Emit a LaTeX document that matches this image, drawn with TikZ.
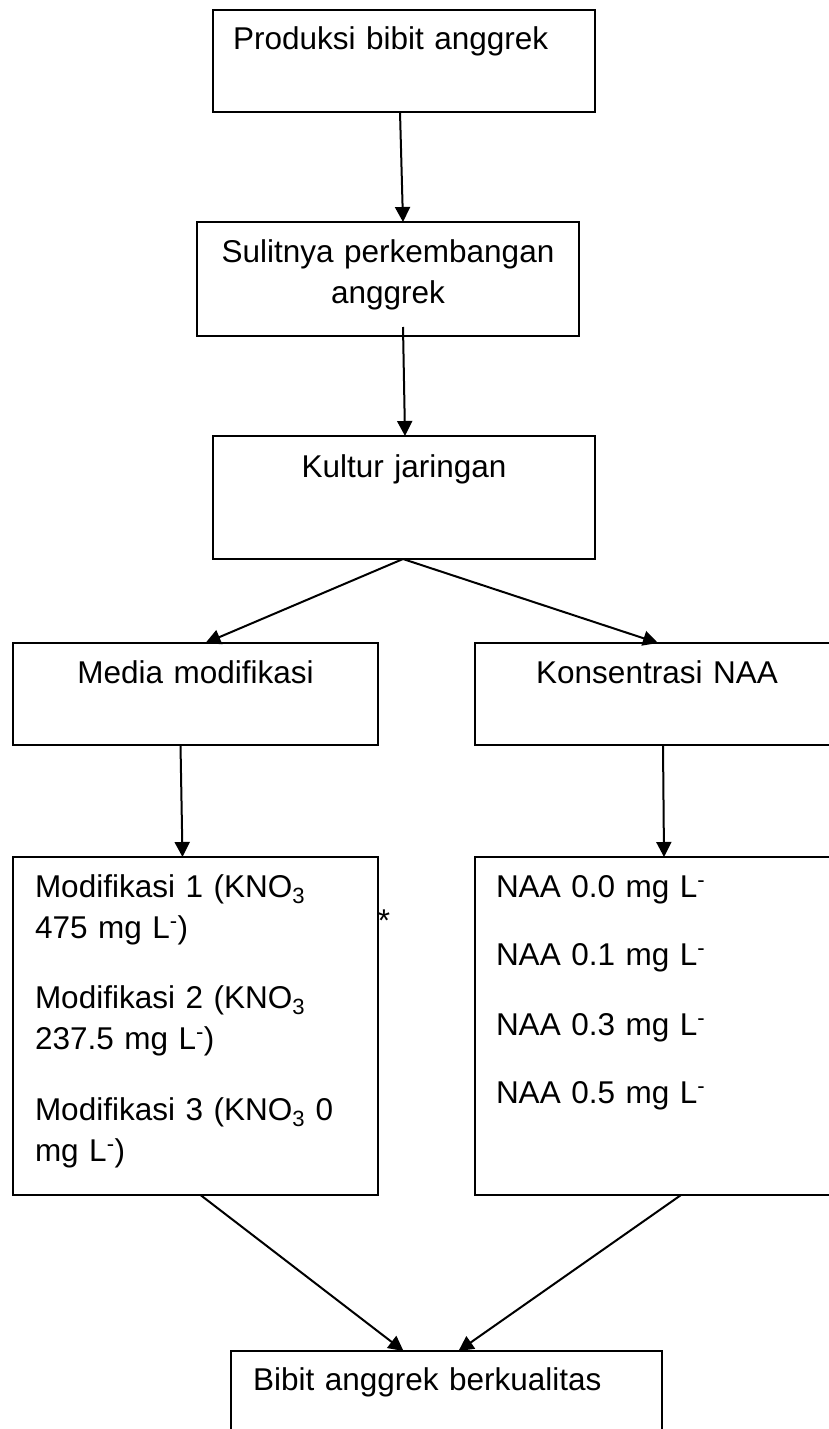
\documentclass[tikz,border=0pt]{standalone}
\usepackage{fontspec}
\setmainfont{Liberation Sans}
\usepackage{tikz}
\usetikzlibrary{arrows.meta,shapes}

\begin{document}
\begin{tikzpicture}[x=1pt,y=-1pt,
  box/.style={draw,line width=2pt,inner ysep=0pt,outer sep=0pt,anchor=north west,font=\fontsize{31.5}{41}\selectfont},
  arr/.style={line width=2pt,-{Triangle[length=15pt,width=15pt]}}]
\useasboundingbox (0,0) rectangle (829,1429);
\node [box,inner xsep=20pt,text width=342pt,text height=40pt,text depth=62pt,align=left] (prod) at (213,10) {Produksi bibit anggrek};
\node [box,inner xsep=20pt,text width=342pt,text height=40pt,text depth=74pt,align=center] (sulit) at (197,222) {Sulitnya perkembangan\\anggrek};
\node [box,inner xsep=20pt,text width=342pt,text height=41pt,text depth=82pt,align=center] (kultur) at (213,436) {Kultur jaringan};
\node [box,inner xsep=20pt,text width=325pt,text height=40pt,text depth=62pt,align=center] (media) at (13,643) {Media modifikasi};
\node [box,inner xsep=20pt,text width=324pt,text height=40pt,text depth=62pt,align=center] (naa) at (475,643) {Konsentrasi NAA};
\node [box,inner xsep=22pt,text width=321pt,text height=40pt,text depth=298pt,align=left] (modif) at (13,857)
  {Modifikasi 1 (KNO\textsubscript{3}\\475 mg L\textsuperscript{-})\\[29pt]Modifikasi 2 (KNO\textsubscript{3}\\237.5 mg L\textsuperscript{-})\\[30pt]Modifikasi 3 (KNO\textsubscript{3} 0\\mg L\textsuperscript{-})};
\node [box,inner xsep=21pt,text width=322pt,text height=40pt,text depth=298pt,align=left] (dosis) at (475,857)
  {NAA 0.0 mg L\textsuperscript{-}\\[27pt]NAA 0.1 mg L\textsuperscript{-}\\[29pt]NAA 0.3 mg L\textsuperscript{-}\\[27pt]NAA 0.5 mg L\textsuperscript{-}};
\node [box,inner xsep=22pt,text width=387pt,text height=39pt,text depth=70pt,align=left] (hasil) at (231,1351) {Bibit anggrek berkualitas};
\node [font=\fontsize{31.5}{41}\selectfont,inner sep=0pt] (bintang) at (384,921) {*};
%\node (titik) at (383,802) {};
\draw [arr] ([xshift=-4pt]prod.south) -- ([xshift=15pt]sulit.north);
\draw [arr] ([xshift=15pt,yshift=9pt]sulit.south) -- ([xshift=1pt]kultur.north);
\draw [arr] ([xshift=-1pt]kultur.south) -- ([xshift=10pt]media.north);
\draw [arr] ([xshift=-1pt]kultur.south) -- ([xshift=1pt]naa.north);
\draw [arr] ([xshift=-15pt]media.south) -- ([xshift=-13pt]modif.north);
\draw [arr] ([xshift=6pt]naa.south) -- ([xshift=7pt]dosis.north);
\draw [arr] ([xshift=5pt]modif.south) -- ([xshift=-43pt]hasil.north);
\draw [arr] ([xshift=24pt]dosis.south) -- ([xshift=12pt]hasil.north);
\end{tikzpicture}
\end{document}
